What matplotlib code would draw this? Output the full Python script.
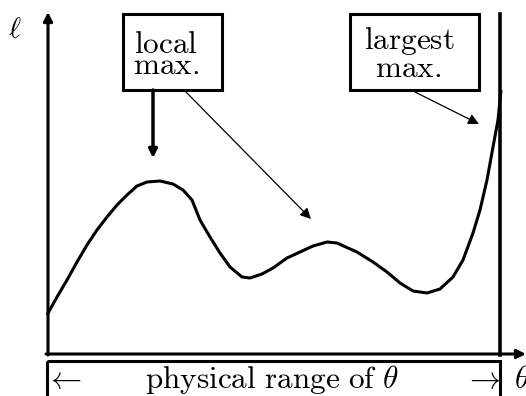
import matplotlib.pyplot as plt
from matplotlib.patches import Rectangle

plt.rcParams['mathtext.fontset'] = 'cm'

# likelihood curve (pixel-like coordinates, y grows downward)
theta = [47, 57, 67, 77, 87, 97, 107, 117, 127, 137, 147, 160, 173, 183, 192,
         200, 210, 220, 230, 242, 250, 262, 273, 287, 300, 313, 327, 337, 348,
         357, 373, 387, 400, 413, 427, 440, 453, 463, 473, 480, 487, 493, 498,
         501]
ell = [315, 297, 280, 262, 245, 230, 217, 205, 195, 186, 182, 181, 184, 190, 200,
       220, 237, 253, 267, 277, 278, 274, 268, 258, 252, 246, 242, 243, 248,
       252, 262, 272, 283, 291, 293, 289, 277, 260, 233, 210, 180, 147, 120,
       90]

box_lines = [[r'$\mathrm{local}$', r'$\mathrm{max.}$'],
             [r'$\mathrm{largest}$', r'$\mathrm{max.}$']]
range_label = r'$\mathrm{physical\ range\ of}\ \theta$'

W, H = 526, 396
fig = plt.figure(figsize=(W / 100, H / 100), dpi=100)
ax = fig.add_axes([0, 0, 1, 1])
ax.set_xlim(0, W)
ax.set_ylim(H, 0)
ax.axis('off')

LW = 2.2
FS = 22.5

# curve
ax.plot(theta, ell, color='black', lw=LW, solid_joinstyle='round',
        solid_capstyle='butt')

# axes with arrows
ax.annotate('', xy=(48, 12), xytext=(48, 355),
            arrowprops=dict(arrowstyle='-|>', lw=LW, color='black',
                            mutation_scale=13, shrinkA=0, shrinkB=0))
ax.annotate('', xy=(526, 354), xytext=(46, 354),
            arrowprops=dict(arrowstyle='-|>', lw=LW, color='black',
                            mutation_scale=13, shrinkA=0, shrinkB=0))
ax.plot([500, 500], [14, 355], color='black', lw=2.6)

ax.text(15, 37, r'$\ell$', fontsize=21, ha='center', va='baseline')
ax.text(522, 388, r'$\theta$', fontsize=FS, ha='center', va='baseline')

# bottom range box
ax.add_patch(Rectangle((47, 361), 453, 50, fill=False, lw=LW, ec='black'))
ax.text(272, 388, range_label, fontsize=FS, ha='center', va='baseline')
ax.text(63, 388, r'$\leftarrow$', fontsize=FS, ha='center', va='baseline')
ax.text(482, 388, r'$\rightarrow$', fontsize=FS, ha='center', va='baseline')

# label boxes
ax.add_patch(Rectangle((123, 14), 99, 76, fill=False, lw=LW, ec='black'))
ax.text(166, 53, box_lines[0][0], fontsize=FS, ha='center', va='baseline')
ax.text(166, 74, box_lines[0][1], fontsize=FS, ha='center', va='baseline')
ax.add_patch(Rectangle((350, 14), 129, 76, fill=False, lw=LW, ec='black'))
ax.text(409, 49, box_lines[1][0], fontsize=FS, ha='center', va='baseline')
ax.text(408, 77, box_lines[1][1], fontsize=FS, ha='center', va='baseline')

# pointer arrows
ax.annotate('', xy=(153, 158), xytext=(153, 90),
            arrowprops=dict(arrowstyle='-|>', lw=2.5, color='black',
                            mutation_scale=12, shrinkA=0, shrinkB=0))
ax.annotate('', xy=(311, 219), xytext=(185, 91),
            arrowprops=dict(arrowstyle='-|>', lw=0.9, color='black',
                            mutation_scale=16, shrinkA=0, shrinkB=0))
ax.annotate('', xy=(479, 124), xytext=(415, 92),
            arrowprops=dict(arrowstyle='-|>', lw=0.9, color='black',
                            mutation_scale=16, shrinkA=0, shrinkB=0))

fig.savefig('out.png', dpi=100)
